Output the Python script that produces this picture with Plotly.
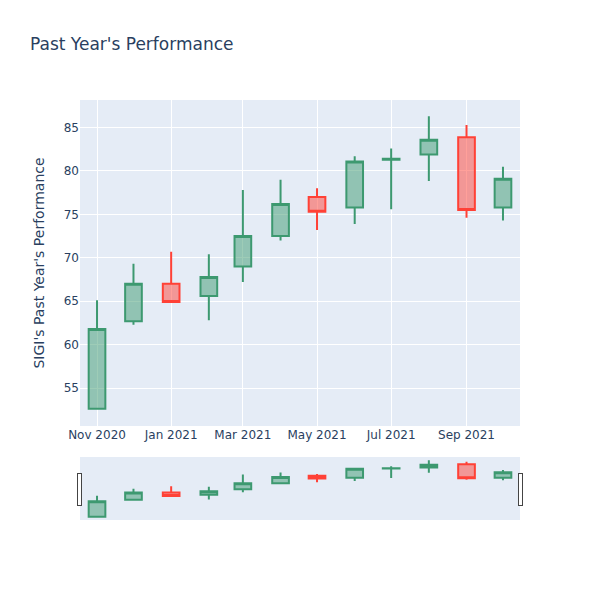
import plotly.graph_objects as go

dates = ["2020-11-01", "2020-12-01", "2021-01-01", "2021-02-01", "2021-03-01", "2021-04-01",
         "2021-05-01", "2021-06-01", "2021-07-01", "2021-08-01", "2021-09-01", "2021-10-01"]
opens = [52.6, 62.7, 67.0, 65.6, 69.0, 72.5, 77.0, 75.8, 81.3, 81.9, 83.9, 75.8]
highs = [65.1, 69.3, 70.7, 70.4, 77.8, 79.0, 78.0, 81.7, 82.6, 86.3, 85.3, 80.5]
lows = [52.5, 62.3, 64.8, 62.8, 67.2, 72.0, 73.2, 73.9, 75.6, 78.85, 74.6, 74.3]
closes = [61.8, 67.0, 64.9, 67.8, 72.5, 76.2, 75.3, 81.1, 81.4, 83.6, 75.5, 79.1]

fig = go.Figure(go.Candlestick(
    x=dates, open=opens, high=highs, low=lows, close=closes,
))

fig.update_layout(
    title=dict(text="Past Year's Performance", x=0.05, xanchor='left'),
    yaxis_title="SIGI's Past Year's Performance",
    width=600, height=600,
    template="plotly",
    font=dict(family="DejaVu Sans"),
    margin=dict(l=80, r=80, t=100, b=80),
)
fig.update_xaxes(automargin=False)
fig.update_yaxes(automargin=False)

# drop the browser's default 8px body margin so the figure sits at the page corner
fig.write_html(
    "out.html",
    config={"displayModeBar": False},
    post_script="document.body.style.margin='0';",
)
